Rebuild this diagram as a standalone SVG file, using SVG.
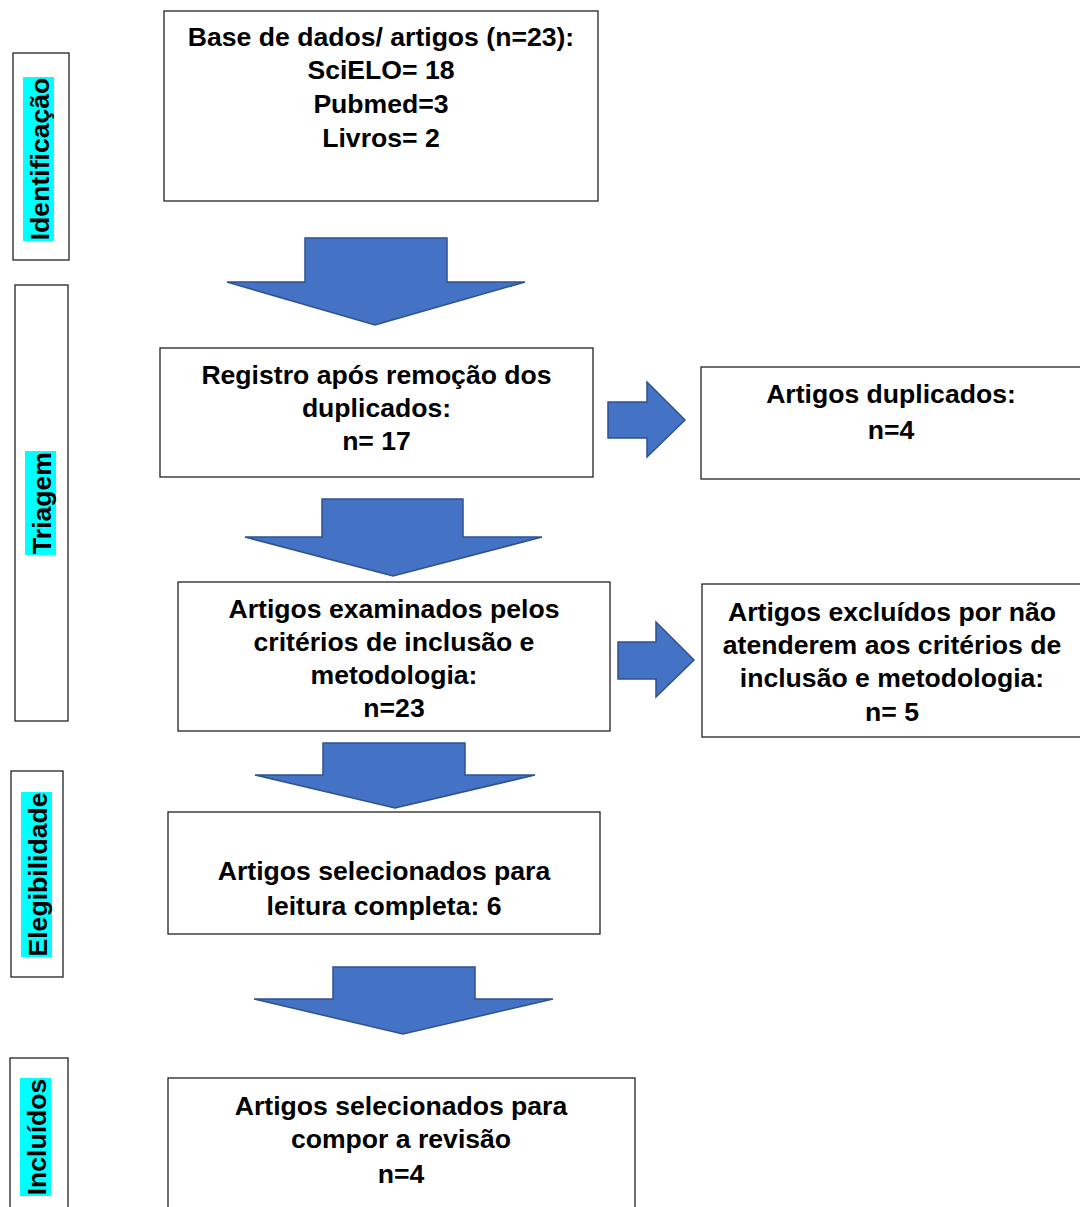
<svg xmlns="http://www.w3.org/2000/svg" width="1080" height="1207" viewBox="0 0 1080 1207">
<style>
.box{fill:#fff;stroke:#222;stroke-width:1.3}
.t{font-family:"Liberation Sans",Arial,sans-serif;font-weight:bold;font-size:26.6px;fill:#000;text-anchor:middle}
.hl{fill:#00FFFF}
.arr{fill:#4472C4;stroke:#2F528F;stroke-width:1.5;stroke-linejoin:miter}
</style>
<rect width="1080" height="1207" fill="#fff"/>
<g id="lbl-identificacao">
<rect class="box" x="13" y="53" width="56" height="207"/>
<rect class="hl" x="23" y="77" width="31" height="164"/>
<text class="t" transform="translate(48.5,159) rotate(-90)">Identificação</text>
</g>
<g id="lbl-triagem">
<rect class="box" x="15" y="285" width="53" height="436"/>
<rect class="hl" x="25" y="451" width="31" height="104"/>
<text class="t" transform="translate(50.5,503) rotate(-90)">Triagem</text>
</g>
<g id="lbl-elegibilidade">
<rect class="box" x="11" y="771" width="52" height="206"/>
<rect class="hl" x="21" y="792" width="31" height="165"/>
<text class="t" transform="translate(46.5,874.5) rotate(-90)">Elegibilidade</text>
</g>
<g id="lbl-incluidos">
<rect class="box" x="10" y="1058" width="58" height="170"/>
<rect class="hl" x="20" y="1078" width="31" height="118"/>
<text class="t" transform="translate(45.5,1137) rotate(-90)">Incluídos</text>
</g>
<g id="n-base">
<rect class="box" x="164" y="11" width="434" height="190"/>
<text class="t" x="381" y="45.5">Base de dados/ artigos (n=23):</text>
<text class="t" x="381" y="79">SciELO= 18</text>
<text class="t" x="381" y="112.5">Pubmed=3</text>
<text class="t" x="381" y="146.5">Livros= 2</text>
</g>
<g id="n-registro">
<rect class="box" x="160" y="348" width="433" height="129"/>
<text class="t" x="376.5" y="384">Registro após remoção dos</text>
<text class="t" x="376.5" y="417">duplicados:</text>
<text class="t" x="376.5" y="450">n= 17</text>
</g>
<g id="n-duplicados">
<rect class="box" x="701" y="367" width="385" height="112"/>
<text class="t" x="891" y="403">Artigos duplicados:</text>
<text class="t" x="891" y="439">n=4</text>
</g>
<g id="n-examinados">
<rect class="box" x="178" y="582" width="432" height="149"/>
<text class="t" x="394" y="618">Artigos examinados pelos</text>
<text class="t" x="394" y="651">critérios de inclusão e</text>
<text class="t" x="394" y="684">metodologia:</text>
<text class="t" x="394" y="717">n=23</text>
</g>
<g id="n-excluidos">
<rect class="box" x="702" y="584" width="384" height="153"/>
<text class="t" x="892" y="621">Artigos excluídos por não</text>
<text class="t" x="892" y="654">atenderem aos critérios de</text>
<text class="t" x="892" y="687">inclusão e metodologia:</text>
<text class="t" x="892" y="721">n= 5</text>
</g>
<g id="n-leitura">
<rect class="box" x="168" y="812" width="432" height="122"/>
<text class="t" x="384" y="880">Artigos selecionados para</text>
<text class="t" x="384" y="915">leitura completa: 6</text>
</g>
<g id="n-incluidos">
<rect class="box" x="168" y="1078" width="467" height="150"/>
<text class="t" x="401" y="1115">Artigos selecionados para</text>
<text class="t" x="401" y="1148">compor a revisão</text>
<text class="t" x="401" y="1183">n=4</text>
</g>
<g id="connectors">
<polygon class="arr" points="305,238 447,238 447,282 525,282 375,325 227,282 305,282"/>
<polygon class="arr" points="322,499 463,499 463,537 542,537 393,576 245,537 322,537"/>
<polygon class="arr" points="323,743 465,743 465,775 535,775 395,808 255,775 323,775"/>
<polygon class="arr" points="333,967 475,967 475,999 553,999 403,1034 254,999 333,999"/>
<polygon class="arr" points="608,402 647,402 647,382 685,420 647,457 647,438 608,438"/>
<polygon class="arr" points="618,642 656,642 656,622 694,660 656,697 656,679 618,679"/>
</g>
</svg>
